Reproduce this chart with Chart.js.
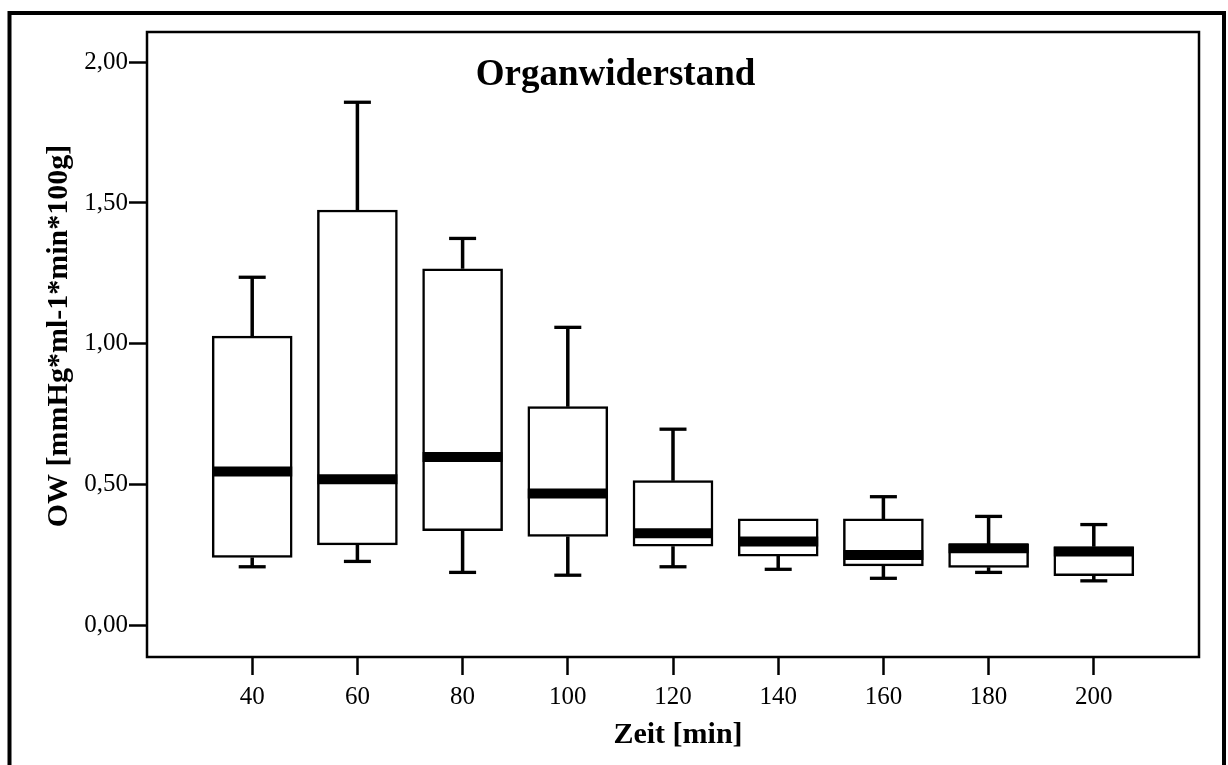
<!DOCTYPE html>
<html>
<head>
<meta charset="utf-8">
<script src="https://cdn.jsdelivr.net/npm/chart.js@4"></script>
<style>
  body { margin: 0; background: #fff; }
  #wrap { width: 1228px; height: 765px; position: relative; }
</style>
</head>
<body>
<div id="wrap"><canvas id="owChart"></canvas></div>
<script>
// Zeit [min] categories and box plot values
const times = [40, 60, 80, 100, 120, 140, 160, 180, 200];
const q1Values = [0.240, 0.285, 0.335, 0.315, 0.280, 0.245, 0.210, 0.205, 0.175];
const q3Values = [1.027, 1.475, 1.266, 0.776, 0.513, 0.377, 0.377, 0.288, 0.278];
const medianValues = [0.546, 0.518, 0.597, 0.467, 0.326, 0.297, 0.249, 0.273, 0.261];
const maxValues = [1.236, 1.858, 1.374, 1.058, 0.696, 0.377, 0.456, 0.386, 0.357];
const minValues = [0.207, 0.226, 0.187, 0.177, 0.207, 0.198, 0.166, 0.187, 0.157];
const yTickValues = [0, 0.5, 1, 1.5, 2];

const serif = "'Liberation Serif', 'Times New Roman', serif";

// box = floating bar from q1 to q3
const boxData = times.map((t, i) => ({ x: t, y: [q1Values[i], q3Values[i]] }));
const medianData = times.map((t, i) => ({ x: t, y: medianValues[i] }));

// whisker lines, broken with null points
const whiskerData = [];
times.forEach((t, i) => {
  whiskerData.push({ x: t, y: q3Values[i] }, { x: t, y: maxValues[i] }, { x: t, y: null });
  whiskerData.push({ x: t, y: q1Values[i] }, { x: t, y: minValues[i] }, { x: t, y: null });
});

// caps only where the whisker has a length
const capData = [];
times.forEach((t, i) => {
  if (maxValues[i] > q3Values[i]) capData.push({ x: t, y: maxValues[i] });
  if (minValues[i] < q1Values[i]) capData.push({ x: t, y: minValues[i] });
});

// no extra label padding around the plot
function noPadding(scale) {
  scale.paddingTop = 0;
  scale.paddingBottom = 0;
  scale.paddingLeft = 0;
  scale.paddingRight = 0;
}

// frame + texts
const decorPlugin = {
  id: 'decor',
  afterDraw(chart) {
    const ctx = chart.ctx;
    const a = chart.chartArea;
    ctx.save();
    ctx.strokeStyle = '#000';
    ctx.lineWidth = 2.5;
    ctx.strokeRect(a.left, a.top, a.right - a.left, a.bottom - a.top);

    // outer frame
    ctx.lineWidth = 4;
    ctx.strokeRect(9.5, 13, 1214.5, 770);

    ctx.fillStyle = '#000';
    ctx.textAlign = 'center';
    ctx.textBaseline = 'alphabetic';
    ctx.font = 'bold 37px ' + serif;
    ctx.fillText('Organwiderstand', 615.5, 85);

    ctx.font = 'bold 30px ' + serif;
    ctx.fillText('Zeit [min]', 678, 743);

    ctx.translate(67, 336);
    ctx.rotate(-Math.PI / 2);
    ctx.fillText('OW [mmHg*ml-1*min*100g]', 0, 0);
    ctx.restore();
  }
};

const ctx = document.getElementById('owChart').getContext('2d');
new Chart(ctx, {
  type: 'bar',
  data: {
    datasets: [
      {
        type: 'scatter',
        data: medianData,
        order: 0,
        pointStyle: 'line',
        pointRadius: 40,
        pointBorderWidth: 10,
        borderColor: '#000',
        backgroundColor: '#000'
      },
      {
        type: 'scatter',
        data: capData,
        order: 1,
        pointStyle: 'line',
        pointRadius: 13.5,
        pointBorderWidth: 3.3,
        borderColor: '#000',
        backgroundColor: '#000'
      },
      {
        type: 'scatter',
        data: whiskerData,
        order: 2,
        showLine: true,
        spanGaps: false,
        pointRadius: 0,
        borderWidth: 3.5,
        borderColor: '#000'
      },
      {
        type: 'bar',
        data: boxData,
        order: 3,
        barThickness: 80,
        backgroundColor: '#fff',
        borderColor: '#000',
        borderWidth: 2.5,
        borderSkipped: false,
        grouped: false
      }
    ]
  },
  options: {
    responsive: true,
    maintainAspectRatio: false,
    animation: false,
    layout: { autoPadding: false, padding: { left: 0, top: 32, right: 29, bottom: 0 } },
    plugins: {
      legend: { display: false },
      tooltip: { enabled: false }
    },
    scales: {
      x: {
        type: 'linear',
        min: 20,
        max: 220,
        offset: false,
        afterBuildTicks: (scale) => { scale.ticks = times.map(v => ({ value: v })); },
        afterFit: (scale) => { scale.height = 108; noPadding(scale); },
        grid: { offset: false, drawOnChartArea: false, drawTicks: true, tickLength: 18, tickWidth: 2.5, tickColor: '#000' },
        border: { display: false },
        ticks: {
          color: '#000',
          padding: 7,
          maxRotation: 0,
          font: { family: serif, size: 25 },
          callback: (v) => String(v)
        }
      },
      y: {
        type: 'linear',
        min: -0.1137,
        max: 2.1077,
        afterBuildTicks: (scale) => { scale.ticks = yTickValues.map(v => ({ value: v })); },
        afterFit: (scale) => { scale.width = 147; noPadding(scale); },
        grid: { drawOnChartArea: false, drawTicks: true, tickLength: 18, tickWidth: 2.5, tickColor: '#000' },
        border: { display: false },
        ticks: {
          color: '#000',
          padding: 1,
          font: { family: serif, size: 25 },
          callback: (v) => Number(v).toFixed(2).replace('.', ',')
        }
      }
    }
  },
  plugins: [decorPlugin]
});
</script>
</body>
</html>
